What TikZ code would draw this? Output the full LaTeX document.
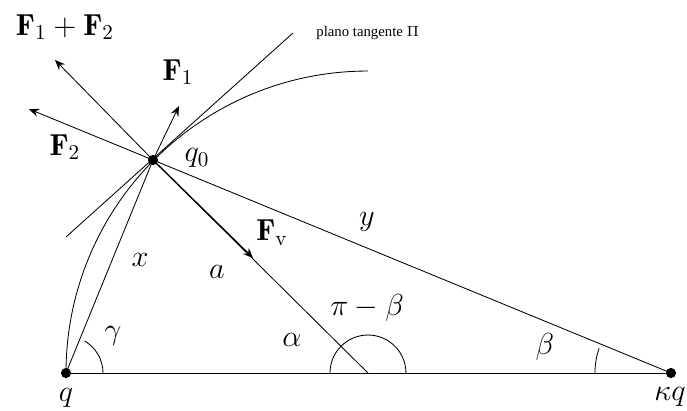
\documentclass[tikz,border=0pt]{standalone}
\usepackage{amsmath,amssymb}
\usepackage{fontspec}
\usepackage{tikz}
\usetikzlibrary{arrows.meta}
\newfontfamily\planofont{Liberation Serif}

\begin{document}
\begin{tikzpicture}[font=\Large,
    >={Stealth[length=1.7mm,width=1.4mm,inset=0.6mm]},
    force/.style={->,semithick},
    dot/.style={fill=black}]
  \useasboundingbox (0,0) rectangle (11.45,6.85);
  % points
  \coordinate (q) at (1.10,0.633);
  \coordinate (kq) at (11.183,0.633);
  \coordinate (C) at (6.133,0.633);
  \coordinate (q0) at (2.55,4.183);
  \coordinate (tanA) at (1.10,2.90);
  \coordinate (tanB) at (4.883,6.30);
  \coordinate (sum) at (0.917,5.85);
  \coordinate (f1) at (2.983,5.083);
  \coordinate (f2) at (0.483,5.033);
  \coordinate (fv) at (4.217,2.55);
  % triangle and circle
  \draw (q) -- (kq);
  \draw (q) -- (q0);
  \draw (q0) -- (kq);
  \draw (q0) -- (C);
  \draw (q) arc[start angle=180,end angle=90,radius=5.033];
  \draw (tanA) -- (tanB);
  % angles
  \draw ([shift={(0:0.617)}]q) arc[start angle=0,end angle=60,radius=0.617];
  \draw ([shift={(0:0.633)}]C) arc[start angle=0,end angle=180,radius=0.633];
  \draw ([shift={(161:1.267)}]kq) arc[start angle=161,end angle=180,radius=1.267];
  % forces
  \draw[->] (q0) -- (sum);
  \draw[->] (q0) -- (f1);
  \draw[->] (q0) -- (f2);
  \draw[force] (q0) -- (fv);
  \fill[dot] (q) circle (0.085);
  \fill[dot] (kq) circle (0.085);
  \fill[dot] (q0) circle (0.085);
  % labels
  \node at (1.083,6.40) {$\mathbf{F}_1+\mathbf{F}_2$};
  \node at (2.967,5.65) {$\mathbf{F}_1$};
  \node at (1.083,4.40) {$\mathbf{F}_2$};
  \node at (3.283,4.217) {$q_0$};
  \node[right,font=\planofont\scriptsize] at (5.15,6.30) {plano tangente $\Pi$};
  \node at (2.333,2.517) {$x$};
  \node at (3.617,2.317) {$a$};
  \node at (4.533,2.967) {$\mathbf{F}_{\mathrm{v}}$};
  \node at (6.117,3.15) {$y$};
  \node at (6.117,1.717) {$\pi-\beta$};
  \node at (4.867,1.183) {$\alpha$};
  \node at (1.883,1.25) {$\gamma$};
  \node at (9.083,1.067) {$\beta$};
  \node at (1.10,0.217) {$q$};
  \node at (11.167,0.233) {$\kappa q$};
\end{tikzpicture}
\end{document}
